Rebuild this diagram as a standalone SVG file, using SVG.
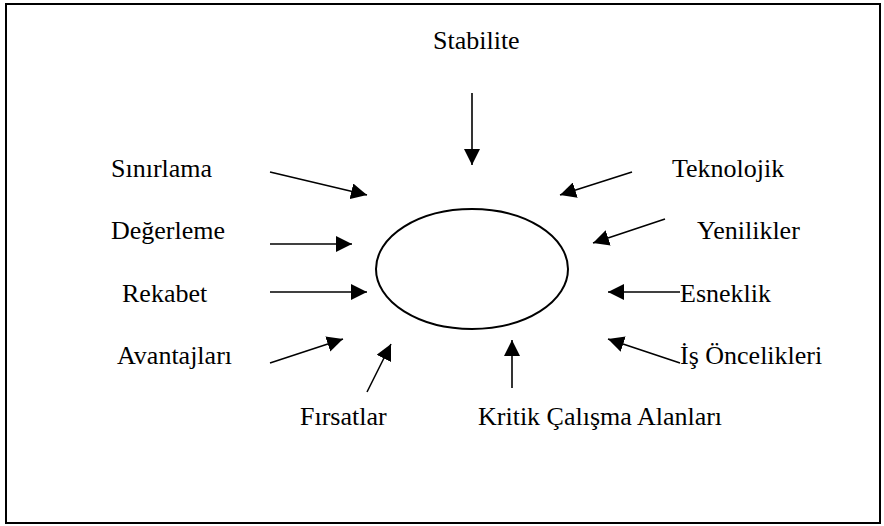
<svg xmlns="http://www.w3.org/2000/svg" width="884" height="526" viewBox="0 0 884 526">
  <style>
    .lbl { font-family: 'Liberation Serif', 'Times New Roman', serif; font-size: 26px; fill: #000; }
    .arr { stroke: #000; stroke-width: 1.6; fill: none; marker-end: url(#head); }
  </style>
  <defs>
    <!-- solid triangular arrowhead shared by all connectors -->
    <marker id="head" markerUnits="userSpaceOnUse" markerWidth="16" markerHeight="16" viewBox="0 0 16 16" refX="16" refY="8" orient="auto">
      <path d="M0,0 L16,8 L0,16 Z" fill="#000"/>
    </marker>
  </defs>
  <rect x="0" y="0" width="884" height="526" fill="#fff"/>
  <rect x="6" y="4" width="874" height="519" fill="none" stroke="#000" stroke-width="2"/>

  <g id="center">
    <ellipse cx="472" cy="269" rx="96" ry="60" fill="none" stroke="#000" stroke-width="2"/>
  </g>

  <g id="stabilite"><text class="lbl" x="433" y="49">Stabilite</text></g>
  <g id="sinirlama"><text class="lbl" x="111" y="177">Sınırlama</text></g>
  <g id="degerleme"><text class="lbl" x="111" y="239">Değerleme</text></g>
  <g id="rekabet"><text class="lbl" x="122" y="302">Rekabet</text></g>
  <g id="avantajlari"><text class="lbl" x="117" y="364">Avantajları</text></g>
  <g id="firsatlar"><text class="lbl" x="300" y="425">Fırsatlar</text></g>
  <g id="kritik"><text class="lbl" x="478" y="425">Kritik Çalışma Alanları</text></g>
  <g id="teknolojik"><text class="lbl" x="672" y="177">Teknolojik</text></g>
  <g id="yenilikler"><text class="lbl" x="697" y="239">Yenilikler</text></g>
  <g id="esneklik"><text class="lbl" x="680" y="302">Esneklik</text></g>
  <g id="is-oncelikleri"><text class="lbl" x="680" y="364">İş Öncelikleri</text></g>

  <g id="connectors">
    <line class="arr" x1="472" y1="93" x2="472" y2="165"/>
    <line class="arr" x1="270" y1="172" x2="367" y2="195"/>
    <line class="arr" x1="270" y1="244" x2="352" y2="244"/>
    <line class="arr" x1="270" y1="292" x2="367" y2="292"/>
    <line class="arr" x1="270" y1="363" x2="343" y2="339"/>
    <line class="arr" x1="367" y1="392" x2="391" y2="344"/>
    <line class="arr" x1="512" y1="388" x2="512" y2="340"/>
    <line class="arr" x1="632" y1="172" x2="560" y2="195"/>
    <line class="arr" x1="665" y1="219" x2="593" y2="243"/>
    <line class="arr" x1="680" y1="292" x2="608" y2="292"/>
    <line class="arr" x1="680" y1="363" x2="608" y2="339"/>
  </g>
</svg>
